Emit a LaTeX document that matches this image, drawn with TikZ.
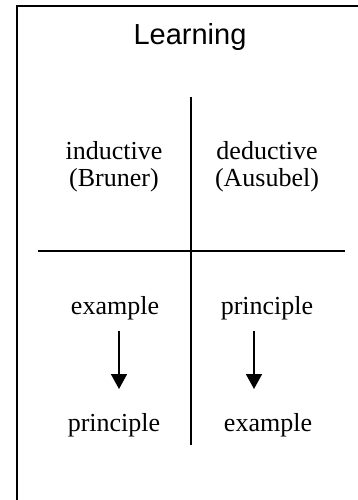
\documentclass[tikz,border=0pt]{standalone}
\usepackage{fontspec}
\setmainfont{Liberation Serif}
\newfontfamily\headfont{Liberation Sans}
\usetikzlibrary{arrows.meta,positioning}

\begin{document}
\begin{tikzpicture}[x=1pt,y=-1pt,
  t/.style={font=\fontsize{26}{27}\selectfont,align=center,inner sep=0pt},
  a/.style={-{Triangle[width=16pt,length=15pt]},line width=1.8pt,shorten <=11pt,shorten >=24pt},
  l/.style={line width=1.8pt}]
\useasboundingbox (0,0) rectangle (358,500);
\clip (0,0) rectangle (358,500);
\draw[line width=1.8pt] (17,510) -- (17,6) -- (370,6);
\node[font=\headfont\fontsize{29}{30}\selectfont] (h) at (190,37) {Learning};
% quadrant lines
\coordinate (vt) at (191,97); \coordinate (vb) at (191,445);
\coordinate (hl) at (38,251); \coordinate (hr) at (345,251);
\draw[l] (vt) -- (vb); \draw[l] (hl) -- (hr);
\node[t] (ind) at (114,167) {inductive\\(Bruner)};
\node[t] (ded) at (267,167) {deductive\\(Ausubel)};
\node[t] (ex1) at (115,308) {example};
\node[t] (pr1) at (114,425) {principle};
\node[t] (pr2) at (267,308) {principle};
\node[t] (ex2) at (268,425) {example};
\draw[a] ([xshift=4pt]ex1.south) -- ([xshift=5pt]pr1.north);
\draw[a] ([xshift=-13pt]pr2.south) -- ([xshift=-14pt]ex2.north);
\end{tikzpicture}
\end{document}
